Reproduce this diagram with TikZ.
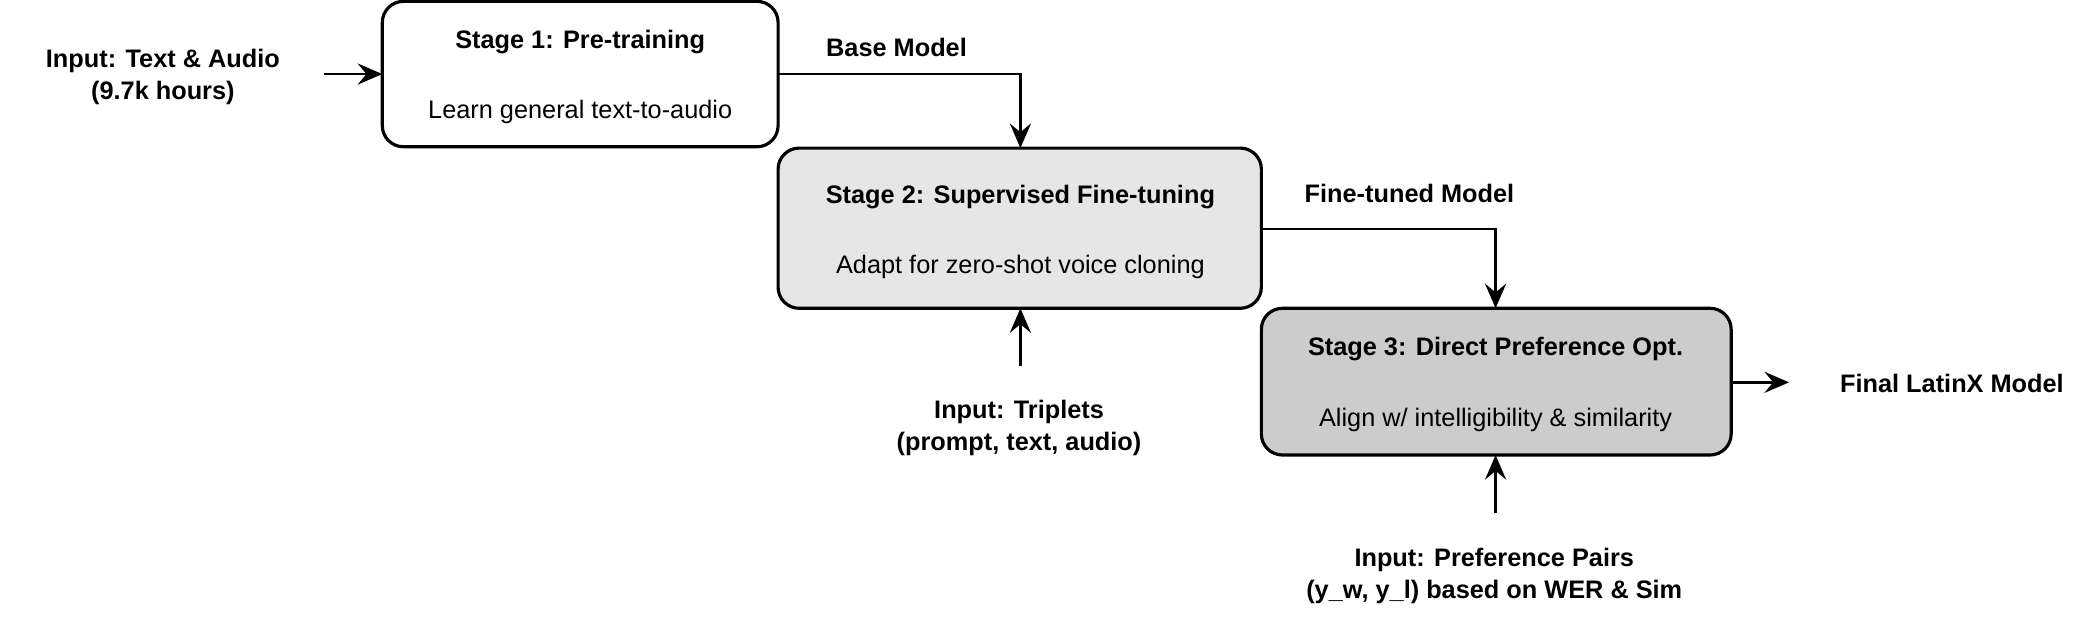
\documentclass[tikz,border=0pt]{standalone}
\usepackage{fontspec}
\setmainfont{Liberation Sans}
\usetikzlibrary{arrows.meta}
\begin{document}
\begin{tikzpicture}[x=0.01346cm,y=-0.01346cm,
  box/.style={draw,line width=0.9pt,rounded corners=6pt},
  ttl/.style={font=\fontsize{7.2}{9}\selectfont\bfseries},
  sub/.style={font=\fontsize{7.2}{9}\selectfont},
  lbl/.style={font=\fontsize{7.2}{9}\selectfont\bfseries,align=center},
  arr/.style={line width=0.75pt,-{Stealth[length=7pt,width=6pt,inset=2.5pt]}}]
\useasboundingbox (0,0) rectangle (1560,468);
\path[box,fill=white] (284,1) rectangle (578,109);
\path[box,fill={rgb,255:red,230;green,230;blue,230}] (578,110) rectangle (937,229);
\path[box,fill={rgb,255:red,204;green,204;blue,204}] (937,229) rectangle (1286,338);
\coordinate (b1r) at (578,55); \coordinate (b1b) at (431,109);
\coordinate (b2t) at (758,110); \coordinate (b2r) at (937,170); \coordinate (b2b) at (758,229);
\coordinate (b3t) at (1111,229); \coordinate (b3r) at (1286,284); \coordinate (b3b) at (1111,338);
\coordinate (b1l) at (284,55);
\node[ttl] (t1) at (431,31) {Stage 1: Pre-training};
\node[sub] (s1) at (431,83) {Learn general text-to-audio};
\node[ttl] (t2) at (758,146) {Stage 2: Supervised Fine-tuning};
\node[sub] (s2) at (758,198) {Adapt for zero-shot voice cloning};
\node[ttl] (t3) at (1111,259) {Stage 3: Direct Preference Opt.};
\node[sub] (s3) at (1111,312) {Align w/ intelligibility \& similarity};
\node[lbl] (in1) at (121,57) {Input: Text \& Audio\\(9.7k hours)};
\node[lbl] (in2) at (757,318) {Input: Triplets\\(prompt, text, audio)};
\node[lbl] (in3) at (1110,428) {Input: Preference Pairs\\(y\_w, y\_l) based on WER \& Sim};
\node[lbl] (out) at (1450,285) {Final LatinX Model};
\node[lbl] (l1) at (666,35) {Base Model};
\node[lbl] (l2) at (1047,144) {Fine-tuned Model};
\coordinate (a1) at (241,55); \coordinate (a2) at (758,272);
\coordinate (a3) at (1111,381); \coordinate (a4) at (1329,284);
\draw[arr] (a1) -- (b1l);
\draw[arr] (b1r) -| (b2t);
\draw[arr] (b2r) -| (b3t);
\draw[arr] (a2) -- (b2b);
\draw[arr] (a3) -- (b3b);
\draw[arr] (b3r) -- (a4);
\end{tikzpicture}
\end{document}
